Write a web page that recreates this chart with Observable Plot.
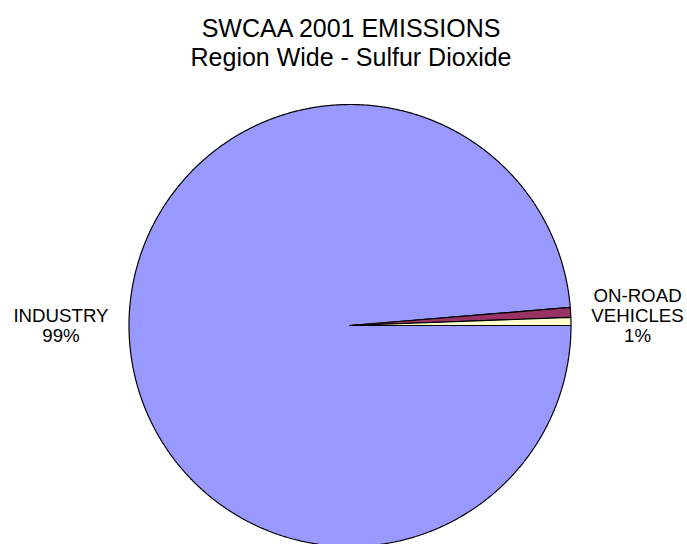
<!DOCTYPE html>
<html><head><meta charset="utf-8">
<script src="https://cdn.jsdelivr.net/npm/d3@7"></script>
<script src="https://cdn.jsdelivr.net/npm/@observablehq/plot@0.6"></script>
<style>html,body{margin:0;padding:0;background:#fff;overflow:hidden}</style>
</head><body><div id="chart"></div>
<script>
const titleLines = ["SWCAA 2001 EMISSIONS", "Region Wide - Sulfur Dioxide"];
const categories = ["INDUSTRY", "ON-ROAD VEHICLES", "NON-ROAD"];
const shares = [98.7, 0.72, 0.58];
const colors = ["#9999FF", "#993366", "#FFFFCC"];
const labelNames = [["INDUSTRY"], ["ON-ROAD", "VEHICLES"], null];

const W = 687, H = 544;
const cx = 349.5, cy = 325, R = 221;
const total = d3.sum(shares);
const pct = shares.map(v => Math.round(v / total * 100) + "%");

// slice outlines, clockwise from 3 o'clock (Excel first-slice angle 90°)
let cum = 0;
const pts = [];
categories.forEach((c, i) => {
  const a0 = cum / total * 2 * Math.PI;
  cum += shares[i];
  const a1 = cum / total * 2 * Math.PI;
  const n = Math.max(2, Math.ceil((a1 - a0) / (Math.PI / 720)));
  pts.push({cat: c, x: 0, y: 0, color: colors[i]});
  for (let k = 0; k <= n; k++) {
    const a = a0 + (a1 - a0) * k / n;
    pts.push({cat: c, x: Math.cos(a), y: -Math.sin(a), color: colors[i]});
  }
  pts.push({cat: c, x: 0, y: 0, color: colors[i]});
});

const label = i => labelNames[i].concat([pct[i]]).join("\n");
const font = "Liberation Sans, Arial, Helvetica, sans-serif";

const chart = Plot.plot({
  width: W, height: H,
  margin: 0,
  style: {fontFamily: font, background: "#fff", color: "#000"},
  x: {domain: [-cx / R, (W - cx) / R], axis: null},
  y: {domain: [-(H - cy) / R, cy / R], axis: null},
  color: {type: "identity"},
  marks: [
    Plot.line(pts, {x: "x", y: "y", z: "cat", fill: "color", stroke: "#000", strokeWidth: 1.2, curve: "linear", strokeLinejoin: "miter"}),
    Plot.text([titleLines.join("\n")], {text: d => d, frameAnchor: "top-left", dx: 350.5, dy: 15.3, textAnchor: "middle", lineAnchor: "top", fontSize: 25, lineHeight: 1.18, fill: "#000"}),
    Plot.text([label(0)], {text: d => d, frameAnchor: "top-left", dx: 60.5, dy: 307.7, textAnchor: "middle", lineAnchor: "top", fontSize: 18.7, lineHeight: 1.05, fill: "#000"}),
    Plot.text([label(1)], {text: d => d, frameAnchor: "top-left", dx: 637, dy: 287.7, textAnchor: "middle", lineAnchor: "top", fontSize: 18.7, lineHeight: 1.07, fill: "#000"})
  ]
});
document.getElementById("chart").appendChild(chart);
</script>
</body></html>
